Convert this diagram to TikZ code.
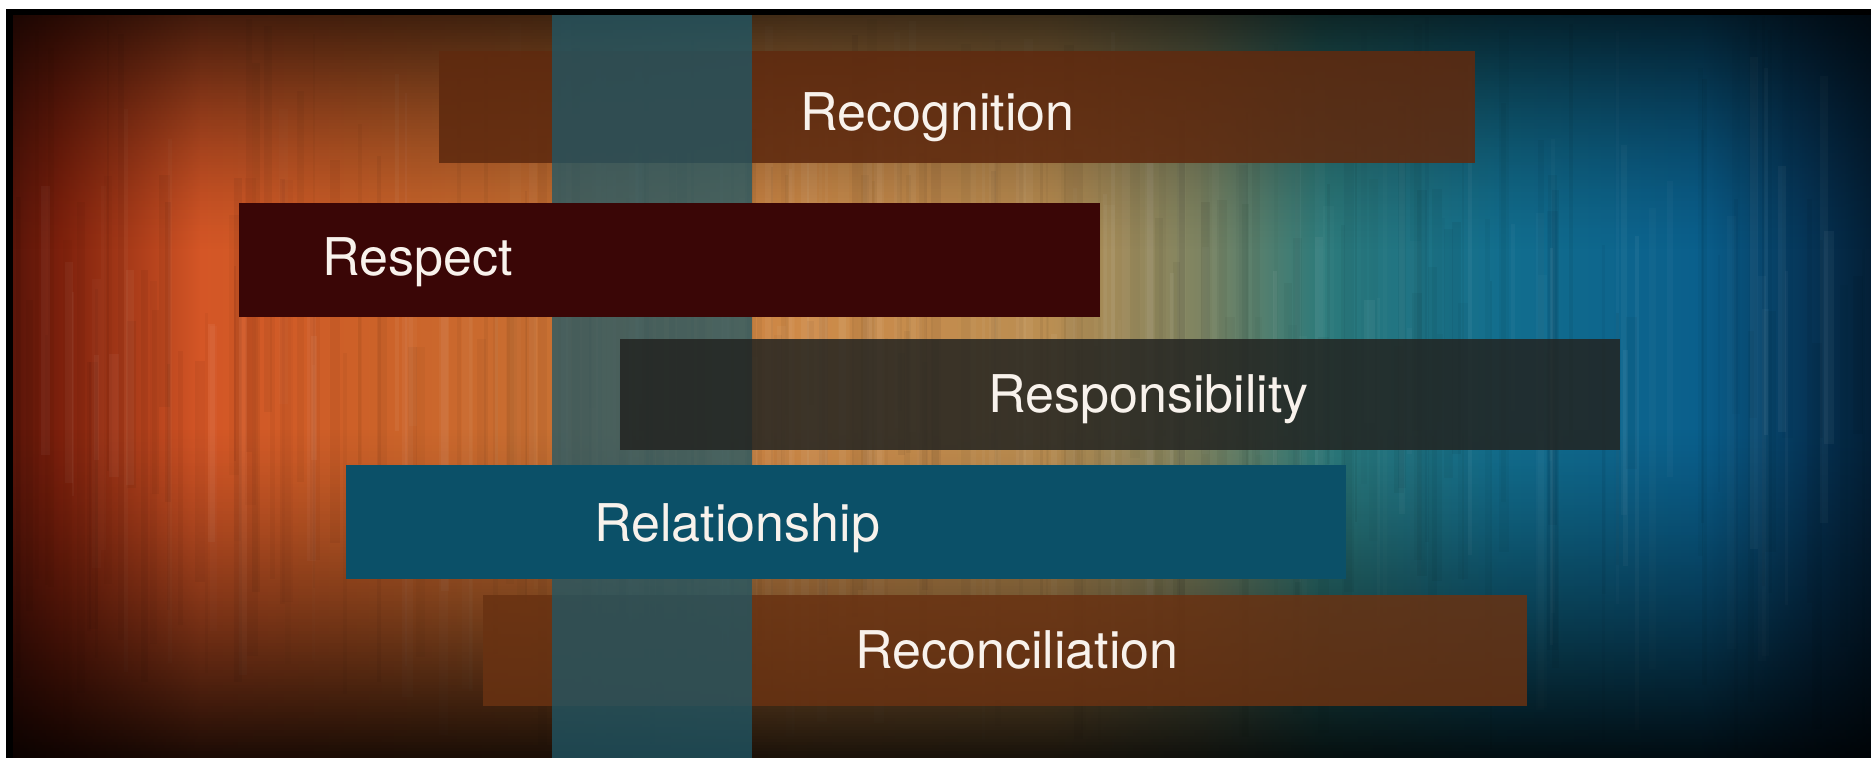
\documentclass[tikz,border=0pt]{standalone}
\usepackage{fontspec}
\setmainfont{TeX Gyre Heros}
\definecolor{b0}{RGB}{80,18,8}
\definecolor{b1}{RGB}{125,32,12}
\definecolor{b2}{RGB}{212,86,38}
\definecolor{b3}{RGB}{205,96,40}
\definecolor{b4}{RGB}{200,112,50}
\definecolor{b5}{RGB}{206,138,72}
\definecolor{b6}{RGB}{186,142,82}
\definecolor{b7}{RGB}{125,132,98}
\definecolor{b8}{RGB}{45,122,122}
\definecolor{b9}{RGB}{18,110,142}
\definecolor{b10}{RGB}{10,95,140}
\definecolor{b11}{RGB}{6,55,90}
\definecolor{b12}{RGB}{3,25,45}
\definecolor{recog}{RGB}{95,42,15}
\definecolor{barc}{RGB}{31,88,104}
\definecolor{respc}{RGB}{58,6,6}
\definecolor{respo}{RGB}{35,36,33}
\definecolor{relc}{RGB}{11,80,104}
\definecolor{recon}{RGB}{105,50,18}
\definecolor{txt}{RGB}{248,242,236}
\begin{document}
\begin{tikzpicture}[x=0.5pt,y=-0.5pt,
  lbl/.style={anchor=base west, inner sep=0pt, text=txt, font=\fontsize{26}{30}\selectfont}]
\useasboundingbox (0,0) rectangle (1871,757);
\fill[white] (0,0) rectangle (1871,757);
\fill[black] (6,9) rectangle (1890,780);
\begin{scope}
\clip (13,15) rectangle (1890,780);
\foreach \xa/\xb/\ca/\cb in {0/60/b0/b1, 60/200/b1/b2, 200/350/b2/b3, 350/550/b3/b4, 550/800/b4/b5, 800/1050/b5/b6, 1050/1200/b6/b7, 1200/1320/b7/b8, 1320/1500/b8/b9, 1500/1700/b9/b10, 1700/1800/b10/b11, 1800/1890/b11/b12}
  \shade[left color=\ca, right color=\cb] (\xa,15) rectangle (\xb+1,780);
\pgfmathsetseed{3}
\foreach \i in {1,...,320}{
  \pgfmathsetmacro\xx{13+rnd*1858}
  \pgfmathsetmacro\ww{2+rnd*9}
  \pgfmathsetmacro\ya{15+rnd*350}
  \pgfmathsetmacro\yb{400+rnd*357}
  \pgfmathsetmacro\op{0.02+0.035*rnd}
  \pgfmathsetmacro\wh{rnd}
  \ifdim\wh pt<0.4pt \def\sc{white}\else\def\sc{black}\fi
  \fill[\sc, opacity=\op] (\xx,\ya) rectangle (\xx+\ww,\yb);
}
\foreach \k in {0,...,78}{
  \pgfmathsetmacro\o{0.68*(1-\k/79)^1.4}
  \fill[black, opacity=\o] (13,15+\k*3) rectangle (1890,18+\k*3);
}
\fill[black, opacity=0.86] (13,757) rectangle (1890,780);
\foreach \k in {0,...,109}{
  \pgfmathsetmacro\o{0.86*(1-\k/110)^1.3}
  \fill[black, opacity=\o] (13,754-\k*3) rectangle (1890,757-\k*3);
}
\end{scope}
% boxes
\fill[recog, opacity=0.88] (439,51) rectangle (1475,163);
\fill[recon, opacity=0.85] (483,595) rectangle (1527,706);
\fill[barc, opacity=0.75] (552,15) rectangle (752,780);
\fill[respc] (239,203) rectangle (1100,317);
\fill[respo, opacity=0.85] (620,339) rectangle (1620,450);
\fill[relc] (346,465) rectangle (1346,579);
% labels
\node[lbl] (recognition) at (800,130) {Recognition};
\node[lbl] (respect) at (322,275) {Respect};
\node[lbl] (responsibility) at (988,412) {Responsibility};
\node[lbl] (relationship) at (594,541) {Relationship};
\node[lbl] (reconciliation) at (855,668) {Reconciliation};
\end{tikzpicture}
\end{document}
